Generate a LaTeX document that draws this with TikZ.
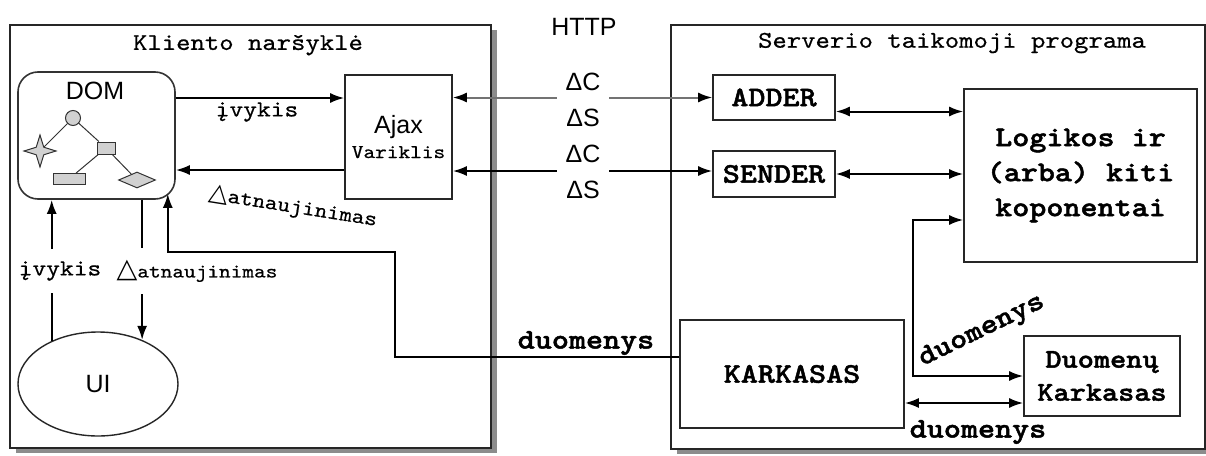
\documentclass[tikz,border=0pt]{standalone}
\usepackage{fontspec}
\setsansfont{Liberation Sans}
\newfontfamily\monofont[FakeStretch=1.14, FakeBold=0.6]{lmmono10-regular.otf}
\newfontfamily\monobold[FakeStretch=1.14, FakeBold=1.6]{lmmonolt10-bold.otf}
\newfontfamily\symbfont{DejaVu Sans}
\usetikzlibrary{arrows.meta, positioning, shapes.geometric, shadows}

\newcommand{\trianglemark}[1]{{\symbfont\fontsize{#1}{#1}\selectfont △}}

\begin{document}
\begin{tikzpicture}[
  x = 1pt, y = -1pt,
  frame/.style = {
    draw=black!85, line width=2pt, fill=white, inner sep=0pt,
    drop shadow={shadow xshift=6pt, shadow yshift=-5pt, fill=black!45, opacity=1}
  },
  box/.style = {draw=black!85, line width=1.6pt, fill=white, inner sep=0pt, align=center},
  domframe/.style = {draw=black!80, line width=1.6pt, rounded corners=20pt},
  treenode/.style = {draw=black!80, line width=1pt, fill=black!18, inner sep=0pt},
  treeedge/.style = {draw=black!80, line width=1pt},
  titletext/.style = {font=\monofont\fontsize{24}{24}\selectfont, inner sep=0pt},
  sanslabel/.style = {font=\sffamily\fontsize{25}{25}\selectfont, inner sep=0pt},
  deltalabel/.style = {font=\sffamily\fontsize{25}{36}\selectfont, align=center,
    fill=white, inner xsep=9pt, inner ysep=0pt},
  boldlabel/.style = {font=\monobold\fontsize{28.5}{33}\selectfont},
  evlabel/.style = {font=\monofont\fontsize{23}{23}\selectfont, inner xsep=0pt},
  tip/.style = {Latex[length=14pt, width=10pt]},
  flow/.style = {-{Latex[length=14pt, width=10pt]}, line width=2pt},
  biflow/.style = {{Latex[length=14pt, width=10pt]}-{Latex[length=14pt, width=10pt]}, line width=2pt}
]
\useasboundingbox (0,0) rectangle (1206,455);

% the two containers
\node[frame, minimum width=481pt, minimum height=423pt] (client) at (250.5,236.5) {};
\node[frame, minimum width=534pt, minimum height=424pt] (server) at (938,237) {};
\node[titletext] (clienttitle) at (248,45) {Kliento naršyklė};
\node[titletext] (servertitle) at (952,43) {Serverio taikomoji programa};
\node[sanslabel] (http) at (584,27) {HTTP};

% browser side
\node[domframe, minimum width=157pt, minimum height=127pt] (dom) at (96.5,135.5) {};
\node[sanslabel] (domlabel) at (95,91) {DOM};
\node[treenode, circle, minimum size=15pt] (root) at (73,118) {};
\node[treenode, star, star points=4, star point ratio=3, minimum size=32pt] (leafstar) at (40,151) {};
\node[treenode, rectangle, minimum width=18pt, minimum height=12pt] (inner) at (106,148) {};
\node[treenode, rectangle, minimum width=32pt, minimum height=11pt] (leafbar) at (69,179) {};
\node[treenode, diamond, minimum width=37pt, minimum height=16pt] (leafdiamond) at (137,180) {};
\draw[treeedge] (root) -- (leafstar);
\draw[treeedge] (root) -- (inner);
\draw[treeedge] (inner) -- (leafbar);
\draw[treeedge] (inner) -- (leafdiamond);

\node[box, minimum width=107pt, minimum height=124pt] (ajax) at (398.5,137)
  {{\sffamily\fontsize{25}{30}\selectfont Ajax}\\[6pt]{\monofont\fontsize{19.5}{22}\selectfont Variklis}};
\node[draw=black!85, line width=1.4pt, ellipse, minimum width=160pt, minimum height=104pt,
  font=\sffamily\fontsize{25}{25}\selectfont] (ui) at (98,384) {UI};

\draw[flow] (dom.east |- 0,98) -- (ajax.west |- 0,98);
\draw[flow] (ajax.west |- 0,170) -- (dom.east |- 0,170);
\node[evlabel] (evtop) at (257,112) {įvykis};
\node[evlabel, font=\monofont\fontsize{21}{21}\selectfont, rotate=-9] (updtop) at (293,207)
  {\trianglemark{25}atnaujinimas};

\node[evlabel, inner ysep=12pt] (evup) at (60,271) {įvykis};
\node[evlabel, font=\monofont\fontsize{19.5}{19.5}\selectfont, inner ysep=12pt] (upddown) at (197,271)
  {\trianglemark{27}atnaujinimas};
\draw[line width=2pt] (ui.137) -- (ui.137 |- evup.south);
\draw[flow] (ui.137 |- evup.north) -- (ui.137 |- dom.south);
\draw[line width=2pt] (ui.45 |- dom.south) -- (ui.45 |- upddown.north);
\draw[flow] (ui.45 |- upddown.south) -- (ui.45);

% server side
\node[box, minimum width=122pt, minimum height=45pt, font=\monobold\fontsize{28.5}{28.5}\selectfont] (adder) at (774,97.5) {ADDER};
\node[box, minimum width=122pt, minimum height=46pt, font=\monobold\fontsize{28.5}{28.5}\selectfont] (sender) at (774,174) {SENDER};
\node[box, minimum width=233pt, minimum height=173pt, font=\monobold\fontsize{28.5}{35}\selectfont] (logic) at (1080.5,175.5)
  {Logikos ir\\(arba) kiti\\koponentai};
\node[box, minimum width=224pt, minimum height=108pt, font=\monobold\fontsize{28.5}{28.5}\selectfont] (karkasas) at (792,374) {KARKASAS};
\node[box, minimum width=156pt, minimum height=80pt, font=\monobold\fontsize{27}{33}\selectfont] (dataframe) at (1102,376)
  {Duomenų\\Karkasas};

\draw[biflow, draw=black!55, {Latex[length=14pt, width=10pt, color=black]}-{Latex[length=14pt, width=10pt, color=black]}]
  (ajax.east |- adder.west) -- (adder.west);
\draw[biflow] (ajax.east |- 0,171) -- (sender.west |- 0,171);
\node[deltalabel] (deltaadd) at (583,100) {ΔC\\ΔS};
\node[deltalabel] (deltasend) at (583,172) {ΔC\\ΔS};

\draw[biflow] ([yshift=-14pt]adder.east) -- ([yshift=-14pt]adder.east -| logic.west);
\draw[biflow] (sender.east) -- (sender.east -| logic.west);

\coordinate (busturn) at (913,220);
\draw[biflow] (dataframe.west) -| (busturn) -- (busturn -| logic.west);
\draw[biflow] ([yshift=-27pt]dataframe.west -| karkasas.east) -- ([yshift=-27pt]dataframe.west);
\node[boldlabel, rotate=26] (datamid) at (982,331) {duomenys};
\node[boldlabel] (datalow) at (978,432) {duomenys};

% data path back to the DOM
\coordinate (dbend) at (395,252);
\draw[flow] ([yshift=17pt]karkasas.west) -| (dbend) -| ([xshift=-8pt, yshift=6pt]dom.south east);
\node[boldlabel] (dataleft) at (586,343) {duomenys};

\end{tikzpicture}
\end{document}
